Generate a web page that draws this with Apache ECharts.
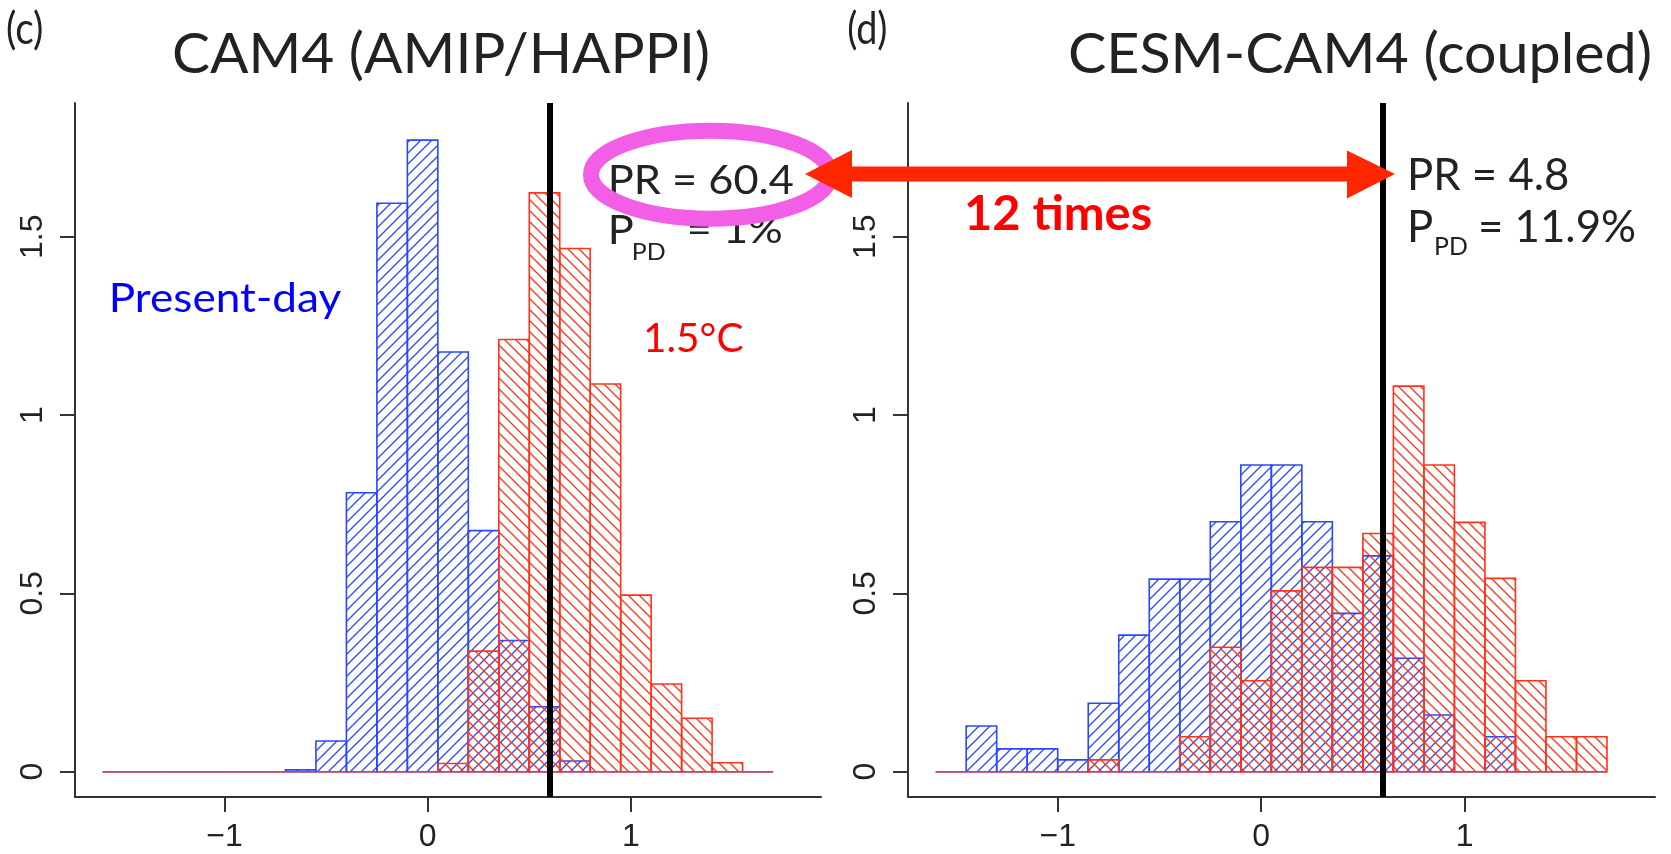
<!DOCTYPE html>
<html>
<head>
<meta charset="utf-8">
<script src="https://cdn.jsdelivr.net/npm/echarts@6.0.0/dist/echarts.min.js"></script>
<style>
html,body{margin:0;padding:0;background:#fff;}
#chart{width:1671px;height:854px;}
</style>
</head>
<body>
<div id="chart"></div>
<script>
// ---------------- data ----------------
const binEdges = [-1.6,-1.45,-1.3,-1.15,-1.0,-0.85,-0.7,-0.55,-0.4,-0.25,-0.1,0.05,0.2,0.35,0.5,0.65,0.8,0.95,1.1,1.25,1.4,1.55,1.7];
// (c) CAM4 (AMIP/HAPPI)
const camPresent = [0,0,0,0,0,0,0.005,0.086,0.782,1.594,1.771,1.177,0.676,0.368,0.182,0.030,0,0,0,0,0,0];
const camWarm    = [0,0,0,0,0,0,0,0,0,0,0,0.023,0.338,1.212,1.623,1.467,1.087,0.495,0.246,0.150,0.025,0];
// (d) CESM-CAM4 (coupled)
const cesmPresent = [0,0.128,0.064,0.064,0.033,0.192,0.383,0.540,0.540,0.701,0.860,0.860,0.701,0.444,0.605,0.318,0.159,0,0.098,0,0,0];
const cesmWarm    = [0,0,0,0,0,0.033,0,0,0.098,0.349,0.255,0.507,0.573,0.573,0.668,1.081,0.860,0.699,0.542,0.255,0.098,0.098];
const thresholdC = [0.6];
const thresholdD = [0.6];
const xTicks = [-1, 0, 1];
const yTicks = [0, 0.5, 1, 1.5];
const xRange = [-1.736, 1.936];
const yRange = [-0.071, 1.875];
const panelLabels = ['(c)', '(d)'];
const panelTitles = ['CAM4 (AMIP/HAPPI)', 'CESM-CAM4 (coupled)'];
const prTexts = ['PR = 60.4', 'PR = 4.8'];
const ppdTexts = ['= 1%', '= 11.9%'];
const labelPresent = 'Present-day';
const labelWarm = '1.5°C';
const labelRatio = '12 times';

// ---------------- helpers ----------------
const BLUE = '#2a48ff', RED = '#ff3319';
function hatch(color, dir){
  const d = 11;
  const c = document.createElement('canvas'); c.width = d; c.height = d;
  const ctx = c.getContext('2d');
  ctx.strokeStyle = color; ctx.lineWidth = 1.3;
  ctx.beginPath();
  if (dir > 0){
    ctx.moveTo(-2, d+2); ctx.lineTo(d+2, -2);
    ctx.moveTo(-2, 2); ctx.lineTo(2, -2);
    ctx.moveTo(d-2, d+2); ctx.lineTo(d+2, d-2);
  } else {
    ctx.moveTo(-2, -2); ctx.lineTo(d+2, d+2);
    ctx.moveTo(-2, d-2); ctx.lineTo(2, d+2);
    ctx.moveTo(d-2, -2); ctx.lineTo(d+2, 2);
  }
  ctx.stroke();
  return {image: c, repeat: 'repeat'};
}
const blueHatch = hatch(BLUE, 1);
const redHatch = hatch(RED, -1);

const TF = 'Lato';
const mctx = document.createElement('canvas').getContext('2d');
function metrics(text, weight, size, baseline){
  mctx.font = weight + ' ' + size + 'px ' + TF;
  mctx.textBaseline = baseline || 'alphabetic';
  const m = mctx.measureText(text);
  mctx.textBaseline = 'alphabetic';
  return m;
}
function sizeForGlyph(glyph, h, weight){
  const m = metrics(glyph, weight, 100);
  return 100 * h / (m.actualBoundingBoxAscent + m.actualBoundingBoxDescent);
}
function scaleFor(text, weight, size, targetW){
  const m = metrics(text, weight, size);
  const ink = m.actualBoundingBoxRight + m.actualBoundingBoxLeft;
  return targetW / ink;
}
function inkLeft(text, weight, size){
  const m = metrics(text, weight, size);
  return -m.actualBoundingBoxLeft;
}
// text whose reference glyph top sits at top, ink starts at left
function txt(text, left, top, size, sx, color, weight, refGlyph){
  weight = weight || 'normal';
  const mid = metrics(refGlyph || 'H', weight, size, 'middle').actualBoundingBoxAscent;
  const off = inkLeft(text, weight, size) * sx;
  return {type:'text', z:60, x:left - off, y:top + mid, scaleX:sx, scaleY:1, originX:0, originY:0,
    style:{text:text, x:0, y:0, fill:color,
      font: weight + ' ' + size + 'px ' + TF, fontFamily: TF, fontSize: size, fontWeight: weight,
      align:'left', verticalAlign:'middle', textAlign:'left', textVerticalAlign:'middle'}};
}
function fitted(text, left, top, h, width, color, weight, refGlyph){
  weight = weight || 'normal';
  refGlyph = refGlyph || 'H';
  const size = sizeForGlyph(refGlyph, h, weight);
  const sx = scaleFor(text, weight, size, width);
  return {el: txt(text, left, top, size, sx, color, weight, refGlyph), size: size, sx: sx};
}

function histData(vals){
  return vals.map((v,i)=>[binEdges[i], binEdges[i+1], v]);
}
function renderer(pattern, color){
  return function(params, api){
    const p0 = api.coord([api.value(0), 0]);
    const p1 = api.coord([api.value(1), api.value(2)]);
    return {type:'rect',
      shape:{x:p0[0], y:p1[1], width:p1[0]-p0[0], height:p0[1]-p1[1]},
      style:{fill:pattern, stroke:color, lineWidth:1.6}};
  };
}
function fmtX(v){ return v < 0 ? '\u2212' + Math.abs(v) : String(v); }

const axisCol = '#333';
function xAxisOpt(gi){
  return {type:'value', gridIndex:gi, min:xRange[0], max:xRange[1],
    axisLine:{show:true, onZero:false, lineStyle:{color:axisCol, width:2}},
    axisTick:{show:true, length:15, customValues:xTicks, lineStyle:{color:axisCol, width:2}},
    axisLabel:{customValues:xTicks, formatter:fmtX, fontSize:32, fontFamily:'Liberation Sans', color:'#222', margin:24},
    splitLine:{show:false}};
}
function yAxisOpt(gi){
  return {type:'value', gridIndex:gi, min:yRange[0], max:yRange[1],
    axisLine:{show:true, onZero:false, lineStyle:{color:axisCol, width:2}},
    axisTick:{show:true, length:15, customValues:yTicks, lineStyle:{color:axisCol, width:2}},
    axisLabel:{customValues:yTicks, rotate:90, fontSize:32, fontFamily:'Liberation Sans', color:'#222', margin:26,
      formatter:v=>String(v)},
    splitLine:{show:false}};
}
function histSeries(gi, vals, pattern, color, z){
  return {type:'custom', xAxisIndex:gi, yAxisIndex:gi, z:z, clip:false,
    data:histData(vals), encode:{x:[0,1], y:2}, renderItem:renderer(pattern, color), silent:true};
}
function threshSeries(gi, t){
  return {type:'line', xAxisIndex:gi, yAxisIndex:gi, data:[], z:10, silent:true,
    markLine:{symbol:['none','none'], silent:true, animation:false, label:{show:false},
      lineStyle:{color:'#000', width:6, type:'solid'}, emphasis:{disabled:true},
      data:[{xAxis:t[0]}]}};
}

const dark = '#222';
const tC = fitted(panelLabels[0], 7, 9, 41, 35, dark, 'normal', '(');
const tD = fitted(panelLabels[1], 848, 9, 41, 38, dark, 'normal', '(');
const ti1 = fitted(panelTitles[0], 174, 33, 41, 534, dark);
const ti2 = fitted(panelTitles[1], 1070, 33, 41, 580, dark);
const pres = fitted(labelPresent, 112, 283, 30, 229, '#0000ff');
const warm = fitted(labelWarm, 646, 323, 30, 97, '#ff0000');
const prC = fitted(prTexts[0], 611, 165, 30, 182, dark);
const prD = fitted(prTexts[1], 1411, 158, 32, 157, dark);
const subC = fitted('PD', 634, 243, 17, 31, dark);
const subD = fitted('PD', 1436, 237, 18, 31, dark);
const ppC = fitted(ppdTexts[0], 689, 215, 28, 93, dark);
const ppD = fitted(ppdTexts[1], 1481, 210, 32, 154, dark);
const ratio = fitted(labelRatio, 967, 195, 35, 184, '#ff0000', 'bold');

const graphics = [
  tC.el, tD.el, ti1.el, ti2.el, pres.el, warm.el,
  prC.el,
  txt('P', 611, 215, prC.size, prC.sx, dark),
  subC.el, ppC.el,
  prD.el,
  txt('P', 1411, 210, prD.size, prD.sx, dark),
  subD.el, ppD.el,
  ratio.el,
  {type:'ellipse', z:70, shape:{cx:710.5, cy:174.7, rx:119.5, ry:44}, style:{fill:'none', stroke:'#f25ee6', lineWidth:16}},
  {type:'rect', z:80, shape:{x:850, y:166.5, width:499, height:15}, style:{fill:'#ff2600'}},
  {type:'polygon', z:80, shape:{points:[[805,174],[852,150],[852,198]]}, style:{fill:'#ff2600'}},
  {type:'polygon', z:80, shape:{points:[[1395,174],[1347,150.5],[1347,198.5]]}, style:{fill:'#ff2600'}}
];

const chart = echarts.init(document.getElementById('chart'), null, {renderer:'canvas'});
chart.setOption({
  backgroundColor:'#ffffff',
  animation:false,
  grid:[
    {left:75, top:103, width:746, height:694, containLabel:false},
    {left:908, top:103, width:747, height:694, containLabel:false}
  ],
  xAxis:[xAxisOpt(0), xAxisOpt(1)],
  yAxis:[yAxisOpt(0), yAxisOpt(1)],
  series:[
    histSeries(0, camPresent, blueHatch, BLUE, 2),
    histSeries(0, camWarm, redHatch, RED, 3),
    threshSeries(0, thresholdC),
    histSeries(1, cesmPresent, blueHatch, BLUE, 2),
    histSeries(1, cesmWarm, redHatch, RED, 3),
    threshSeries(1, thresholdD)
  ],
  graphic:{elements:graphics}
});
</script>
</body>
</html>
